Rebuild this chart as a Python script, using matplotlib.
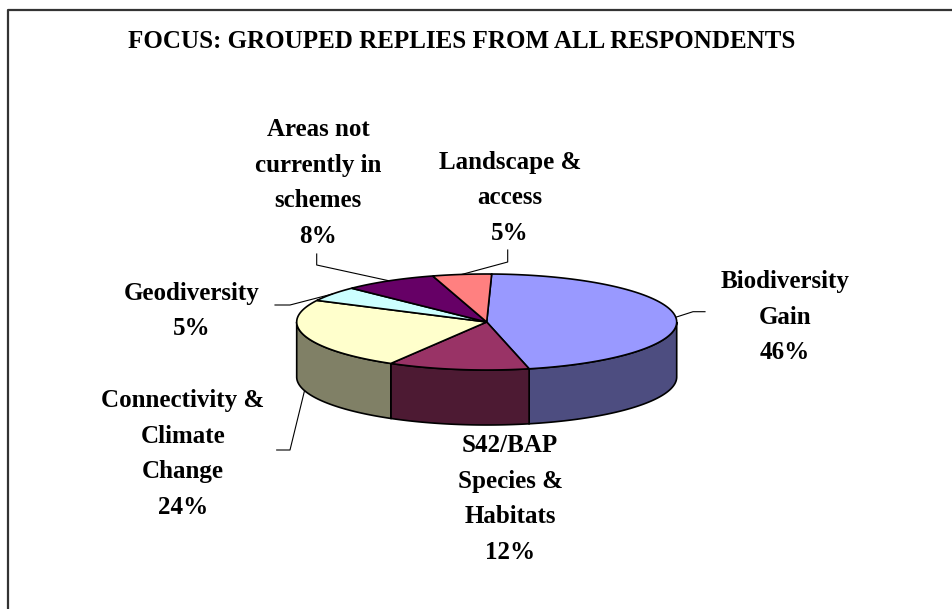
import numpy as np
import matplotlib.pyplot as plt
from matplotlib.patches import Polygon

plt.rcParams['font.family'] = ['Liberation Serif', 'DejaVu Serif']

# data
labels = ["Biodiversity\nGain", "S42/BAP\nSpecies &\nHabitats", "Connectivity &\nClimate\nChange",
          "Geodiversity", "Areas not\ncurrently in\nschemes", "Landscape &\naccess"]
values = [46, 12, 24, 5, 8, 5]
top_colors = ['#9999FF', '#993366', '#FFFFCC', '#CCFFFF', '#660066', '#FF8080']
title = "FOCUS: GROUPED REPLIES FROM ALL RESPONDENTS"

# layout (pixels)
cx, cy, a, b, depth = 486.7, 322, 190, 48, 55
start = 1.5
label_pos = [(785, 315), (510, 497), (183, 452), (192, 309), (318, 181), (510, 196)]
elbows = [[(705, 311.7), (693, 311.7)], None, [(276.7, 450), (290, 450)],
          [(275, 305), (290, 305)], [(316.7, 254), (316.7, 265)], [(507.7, 250), (507.7, 262)]]


def shade(c, f=0.5):
    c = np.array(plt.matplotlib.colors.to_rgb(c))
    return tuple(c * f)


def pt(t, dy=0):
    r = np.radians(t)
    return cx + a * np.sin(r), cy - b * np.cos(r) + dy


fig = plt.figure(figsize=(9.52, 6.09), dpi=100)
ax = fig.add_axes([0, 0, 1, 1])
ax.set_xlim(0, 952)
ax.set_ylim(609, 0)
ax.axis('off')

# frame
ax.plot([7.5, 7.5, 952], [609, 10, 10], color='#333333', lw=1.6, solid_capstyle='butt')

ax.text(462, 42, title, ha='center', va='center', fontsize=18, fontweight='bold')

total = sum(values)
bounds = start + 360 * np.concatenate([[0], np.cumsum(values)]) / total

# side walls (front half only)
for i in range(len(values)):
    t0, t1 = max(bounds[i], 90), min(bounds[i + 1], 270)
    if t1 <= t0:
        continue
    ts = np.linspace(t0, t1, 80)
    upper = [pt(t) for t in ts]
    lower = [pt(t, depth) for t in ts[::-1]]
    ax.add_patch(Polygon(upper + lower, closed=True, facecolor=shade(top_colors[i]),
                         edgecolor='black', lw=1.2, zorder=2))

# top faces
for i in range(len(values)):
    ts = np.linspace(bounds[i], bounds[i + 1], 120)
    verts = [(cx, cy)] + [pt(t) for t in ts]
    ax.add_patch(Polygon(verts, closed=True, facecolor=top_colors[i],
                         edgecolor='black', lw=1.2, zorder=3))

# labels and leader lines
for i in range(len(values)):
    x, y = label_pos[i]
    ax.text(x, y + 2, f"{labels[i]}\n{values[i]}%", ha='center', va='center',
            fontsize=18, fontweight='bold', linespacing=1.7)
    if elbows[i] is None:
        continue
    mid = (bounds[i] + bounds[i + 1]) / 2
    c = np.cos(np.radians(mid))
    ax_pt = pt(mid, depth if c < 0 else 0)
    xs = [p[0] for p in elbows[i]] + [ax_pt[0]]
    ys = [p[1] for p in elbows[i]] + [ax_pt[1]]
    ax.plot(xs, ys, color='black', lw=0.8, zorder=4)

fig.savefig("out.png", dpi=100)
